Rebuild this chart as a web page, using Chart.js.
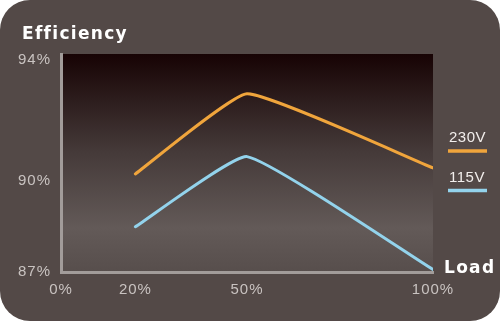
<!DOCTYPE html>
<html lang="en">
<head>
  <meta charset="UTF-8" />
  <title>Efficiency vs Load</title>
  <script src="https://cdn.jsdelivr.net/npm/chart.js"></script>
  <style>
    html, body { margin: 0; padding: 0; background: #fff; }
    #wrap { width: 500px; height: 321px; }
  </style>
</head>
<body>
  <div id="wrap"><canvas id="effChart" width="500" height="321"></canvas></div>

  <script>
    // data
    const loads = [20, 50, 100];
    const eff230 = [90.23, 92.87, 90.43];
    const eff115 = [88.49, 90.80, 87.08];
    const xTicks = [0, 20, 50, 100];
    const yTicks = [87, 90, 94];
    const seriesNames = ['230V', '115V'];

    const bgColor = '#534947';
    const tickColor = '#c9c3c1';
    const axisColor = '#a29c9a';

    // background card, plot gradient, title, legend, axis name
    const decor = {
      id: 'decor',
      beforeDraw(chart) {
        const { ctx, chartArea: a } = chart;
        ctx.save();
        ctx.fillStyle = bgColor;
        ctx.beginPath();
        ctx.roundRect(0, 0, 500, 321, 30);
        ctx.fill();
        const g = ctx.createLinearGradient(0, a.top, 0, a.bottom);
        g.addColorStop(0, '#170304');
        g.addColorStop(0.45, '#453a39');
        g.addColorStop(0.8, '#635a58');
        g.addColorStop(1, '#574e4c');
        ctx.fillStyle = g;
        ctx.fillRect(a.left, a.top, a.right - a.left, a.bottom - a.top);
        ctx.restore();
        ctx.letterSpacing = '1px';
      },
      afterDraw(chart) {
        const { ctx } = chart;
        ctx.save();
        ctx.fillStyle = '#ffffff';
        ctx.font = 'bold 17px "DejaVu Sans", Verdana, sans-serif';
        ctx.letterSpacing = '1.3px';
        ctx.textBaseline = 'alphabetic';
        ctx.textAlign = 'left';
        ctx.fillText('Efficiency', 22, 39);
        ctx.fillText('Load', 444, 273);

        ctx.letterSpacing = '0.5px';
        ctx.font = '15px "Liberation Sans", Arial, sans-serif';
        chart.data.datasets.forEach((ds, i) => {
          ctx.fillStyle = '#f2eeec';
          ctx.fillText(ds.label, 449, 142 + 40 * i);
          ctx.strokeStyle = ds.borderColor;
          ctx.lineWidth = 3.5;
          ctx.beginPath();
          ctx.moveTo(448, 151 + 39.5 * i);
          ctx.lineTo(487, 151 + 39.5 * i);
          ctx.stroke();
        });
        ctx.restore();
      }
    };

    new Chart(document.getElementById('effChart'), {
      type: 'line',
      data: {
        datasets: [
          {
            label: seriesNames[0],
            data: loads.map((x, i) => ({ x, y: eff230[i] })),
            borderColor: '#f0a53c',
            borderWidth: 3,
            tension: 0.12,
            pointRadius: 0,
            borderCapStyle: 'round'
          },
          {
            label: seriesNames[1],
            data: loads.map((x, i) => ({ x, y: eff115[i] })),
            borderColor: '#93d3ec',
            borderWidth: 3,
            tension: 0.12,
            pointRadius: 0,
            borderCapStyle: 'round'
          }
        ]
      },
      options: {
        responsive: false,
        animation: false,
        layout: { padding: { left: 0, right: 67, top: 54, bottom: 6 } },
        plugins: { legend: { display: false }, tooltip: { enabled: false } },
        scales: {
          x: {
            type: 'linear',
            min: 0,
            max: 100,
            afterBuildTicks: s => { s.ticks = xTicks.map(v => ({ value: v })); },
            afterFit: s => { s.height = 43; },
            grid: { display: false, drawTicks: false },
            border: { display: true, color: axisColor, width: 3 },
            ticks: {
              color: tickColor,
              font: { family: '"Liberation Sans", Arial, sans-serif', size: 15 },
              padding: 9,
              maxRotation: 0,
              callback: v => v + '%'
            }
          },
          y: {
            min: 87,
            max: 94.18,
            afterBuildTicks: s => { s.ticks = yTicks.map(v => ({ value: v })); },
            afterFit: s => { s.width = 61; },
            grid: { display: false, drawTicks: false },
            border: { display: true, color: axisColor, width: 3 },
            ticks: {
              color: tickColor,
              font: { family: '"Liberation Sans", Arial, sans-serif', size: 15 },
              padding: 10,
              callback: v => v + '%'
            }
          }
        }
      },
      plugins: [decor]
    });
  </script>
</body>
</html>
